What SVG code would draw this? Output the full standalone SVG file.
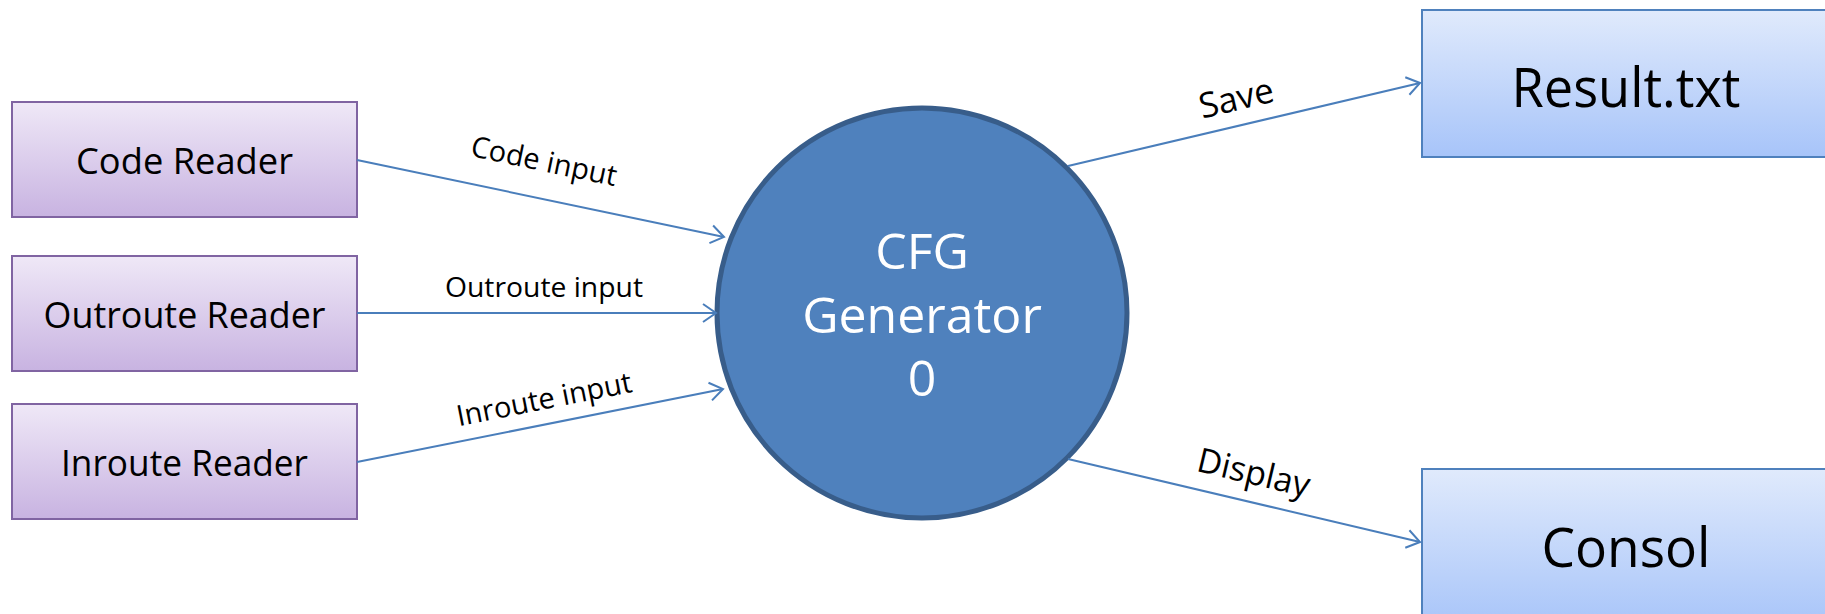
<svg xmlns="http://www.w3.org/2000/svg" width="1825" height="614" viewBox="0 0 1825 614">
<defs>
<linearGradient id="gPurple" x1="0" y1="0" x2="0" y2="1">
<stop offset="0" stop-color="#efe8f7"/>
<stop offset="1" stop-color="#c8b3e1"/>
</linearGradient>
<linearGradient id="gBlue" x1="0" y1="0" x2="0" y2="1">
<stop offset="0" stop-color="#e0eafc"/>
<stop offset="1" stop-color="#a7c4f9"/>
</linearGradient>
<marker id="arr" markerWidth="12" markerHeight="12" refX="11" refY="6" orient="auto" markerUnits="userSpaceOnUse" viewBox="0 0 12 12" overflow="visible">
<path d="M -2 -3 L 11 6 L -2 15" fill="none" stroke="#4a7ebb" stroke-width="2"/>
</marker>
<style>
.src rect{fill:url(#gPurple);stroke:#8064a2;stroke-width:2}
.dst rect{fill:url(#gBlue);stroke:#4f81bd;stroke-width:2}
.t{font-family:"Open Sans","Noto Sans","DejaVu Sans",sans-serif;fill:#000;text-anchor:middle}
.w{fill:#fff}
.conn line{stroke:#4a7ebb;stroke-width:2;fill:none;marker-end:url(#arr)}
</style>
</defs>
<rect width="1825" height="614" fill="#fff"/>
<g id="code-reader" class="src">
<rect x="12" y="102" width="345" height="115"/>
<text class="t" x="184.5" y="174" font-size="37" textLength="217" lengthAdjust="spacingAndGlyphs">Code Reader</text>
</g>
<g id="outroute-reader" class="src">
<rect x="12" y="256" width="345" height="115"/>
<text class="t" x="184.5" y="328" font-size="37" textLength="282" lengthAdjust="spacingAndGlyphs">Outroute Reader</text>
</g>
<g id="inroute-reader" class="src">
<rect x="12" y="404" width="345" height="115"/>
<text class="t" x="184.5" y="476" font-size="37" textLength="247" lengthAdjust="spacingAndGlyphs">Inroute Reader</text>
</g>
<g id="cfg-generator">
<circle cx="922" cy="313" r="205" fill="#4f81bd" stroke="#385d8a" stroke-width="5"/>
<text class="t w" font-size="50"><tspan x="922" y="269">CFG</tspan><tspan x="922" y="333">Generator</tspan><tspan x="922" y="396">0</tspan></text>
</g>
<g id="result-txt" class="dst">
<rect x="1422" y="10" width="420" height="147"/>
<text class="t" x="1626" y="107" font-size="55" textLength="229" lengthAdjust="spacingAndGlyphs">Result.txt</text>
</g>
<g id="consol" class="dst">
<rect x="1422" y="469" width="420" height="160"/>
<text class="t" x="1626" y="567" font-size="55" textLength="169" lengthAdjust="spacingAndGlyphs">Consol</text>
</g>
<g id="connectors" class="conn">
<line x1="357" y1="160" x2="724" y2="237"/>
<line x1="357" y1="313" x2="716" y2="313"/>
<line x1="357" y1="462" x2="723" y2="389"/>
<line x1="1068" y1="166" x2="1420" y2="83"/>
<line x1="1068" y1="459" x2="1420" y2="542"/>
<text class="t" font-size="29" transform="translate(542,171) rotate(11.8)">Code input</text>
<text class="t" font-size="27" x="544" y="297" textLength="198" lengthAdjust="spacingAndGlyphs">Outroute input</text>
<text class="t" font-size="29" transform="translate(546,409) rotate(-11.2)">Inroute input</text>
<text class="t" font-size="35" transform="translate(1239,110) rotate(-13.3)">Save</text>
<text class="t" font-size="34" transform="translate(1251,484) rotate(13.3)">Display</text>
</g>
</svg>
